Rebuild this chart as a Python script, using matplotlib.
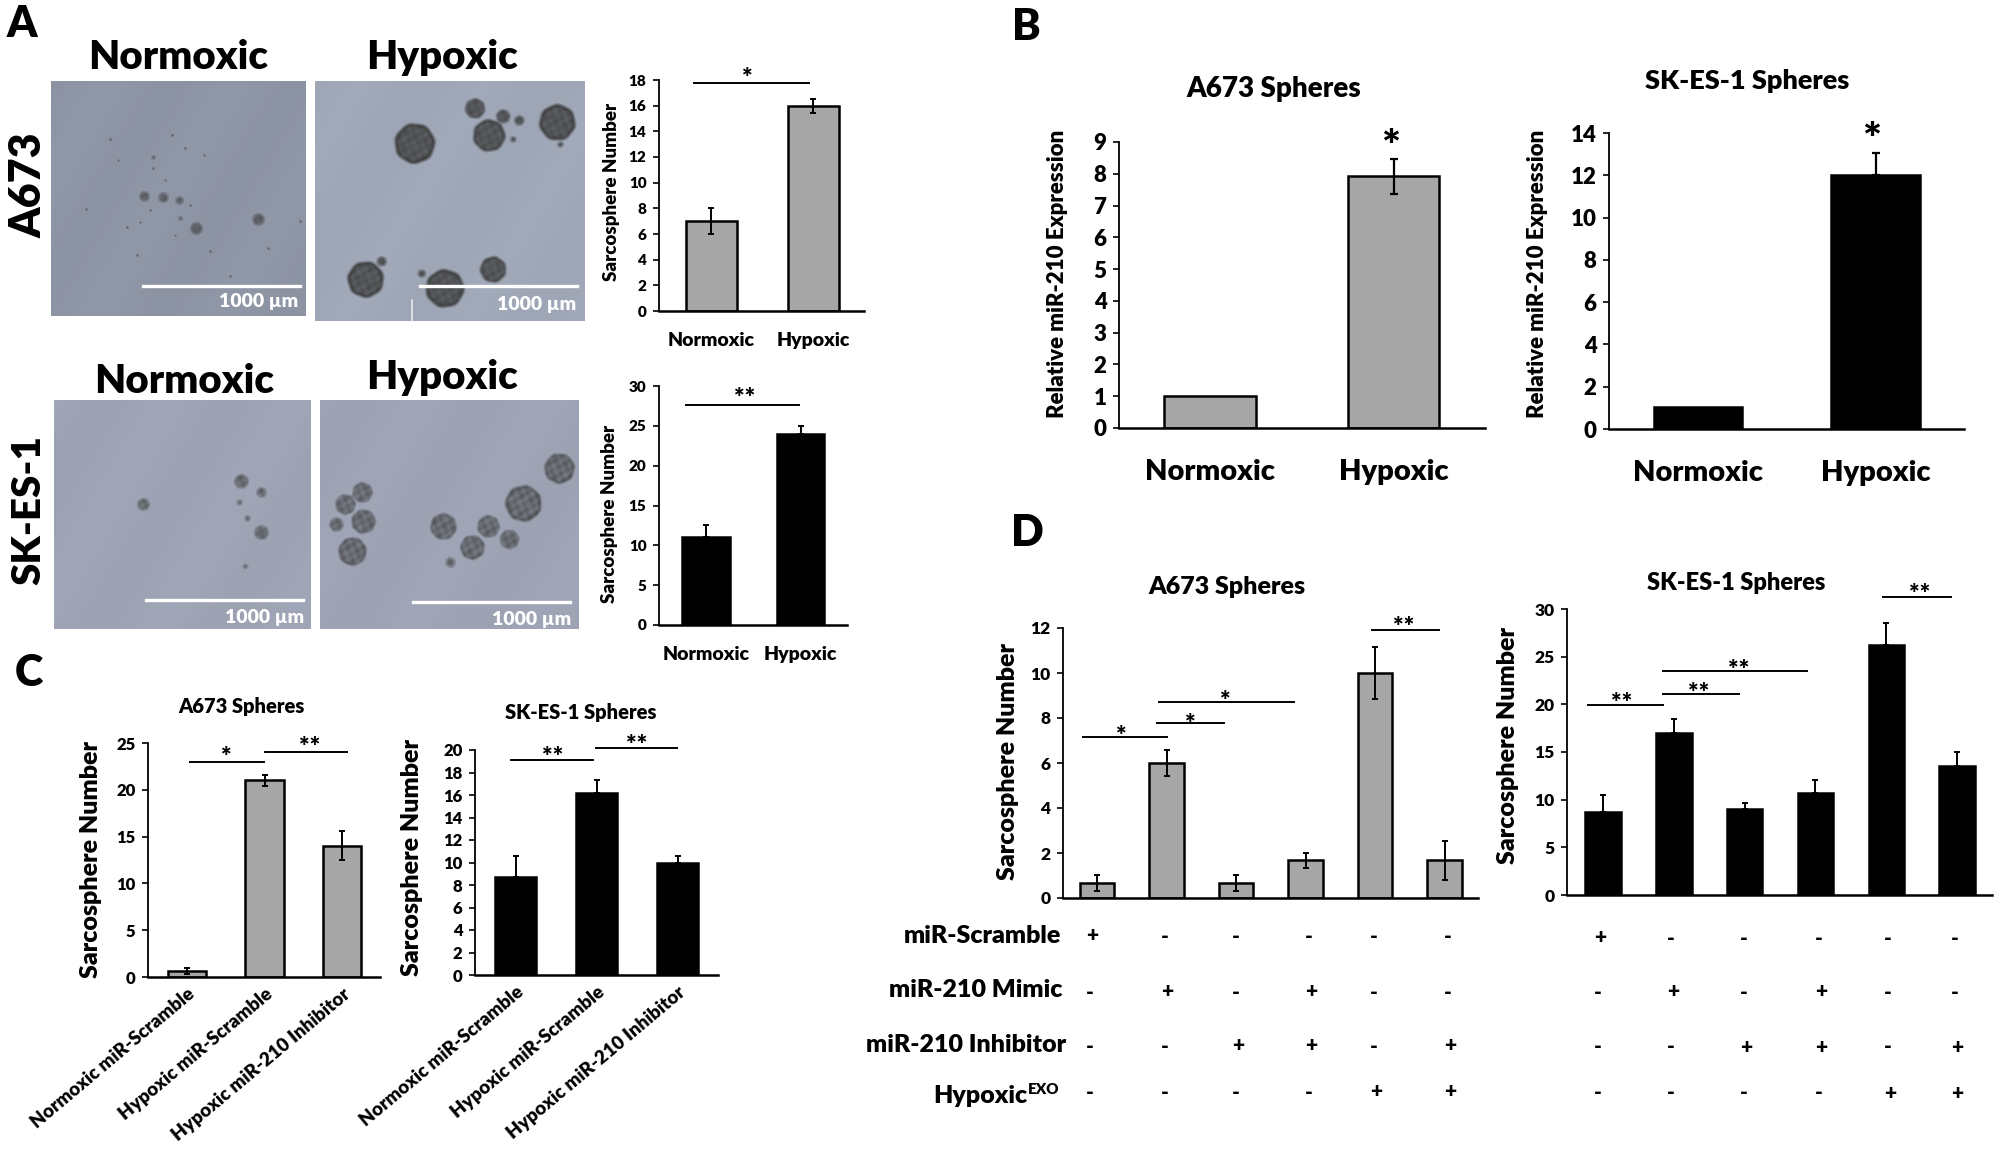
import numpy as np
import matplotlib
matplotlib.use("Agg")
import matplotlib.pyplot as plt
from matplotlib.lines import Line2D

W, H = 2000, 1149
GRAY = '#a6a6a6'
BLACK = '#000000'

plt.rcParams['font.family'] = ['Lato', 'DejaVu Sans']
plt.rcParams['font.weight'] = 800

# Panel A
a_labels = ['Normoxic', 'Hypoxic']
a_a673_vals = [7, 16]
a_a673_errs = [1.0, 0.55]
a_sk_vals = [11, 24]
a_sk_errs = [1.55, 1.0]

# Panel B
b_a673_vals = [1, 7.92]
b_a673_errs = [0, 0.56]
b_sk_vals = [1.05, 12]
b_sk_errs = [0, 1.05]

# Panel C
c_labels = ['Normoxic miR-Scramble', 'Hypoxic miR-Scramble', 'Hypoxic miR-210 Inhibitor']
c_a673_vals = [0.65, 21, 14]
c_a673_errs = [0.35, 0.6, 1.55]
c_sk_vals = [8.7, 16.2, 10]
c_sk_errs = [1.85, 1.15, 0.55]

# Panel D
d_a673_vals = [0.67, 6, 0.67, 1.67, 10, 1.67]
d_a673_errs = [0.35, 0.58, 0.35, 0.35, 1.17, 0.87]
d_sk_vals = [8.7, 17, 9, 10.7, 26.2, 13.5]
d_sk_errs = [1.8, 1.5, 0.6, 1.4, 2.3, 1.5]
d_rows = ['miR-Scramble', 'miR-210 Mimic', 'miR-210 Inhibitor']
d_signs = ['+-----', '-+-+--', '--++-+', '----++']

# micrograph spheres, (x, y, radius) in figure pixels
spheres_a_norm = [(163, 197, 6), (179, 200, 5), (144, 196, 6), (196, 228, 7), (258, 219, 7),
                  (153, 157, 3), (110, 139, 2), (185, 148, 2), (204, 155, 1.5), (180, 218, 3),
                  (86, 209, 2), (127, 227, 2), (268, 248, 2), (137, 255, 2), (230, 276, 2),
                  (300, 221, 2), (210, 251, 2), (153, 168, 2), (172, 135, 2), (118, 160, 1.5),
                  (165, 180, 1.5), (150, 210, 2), (140, 222, 1.5), (190, 205, 2), (175, 235, 1.5)]
spheres_a_hyp = [(414, 143, 21), (488, 135, 17), (474, 108, 11), (556, 122, 19), (502, 116, 8),
                 (518, 120, 6), (512, 139, 4), (559, 144, 4), (365, 279, 19), (381, 261, 6),
                 (444, 288, 20), (492, 269, 14), (421, 273, 5)]
spheres_sk_norm = [(143, 504, 7), (241, 481, 8), (261, 492, 6), (239, 502, 4), (247, 518, 4),
                   (261, 532, 8), (245, 566, 3.5)]
spheres_sk_hyp = [(362, 492, 11), (345, 504, 11), (363, 521, 13), (336, 524, 8), (352, 551, 15),
                  (443, 526, 14), (488, 526, 12), (472, 547, 13), (509, 539, 10.5), (523, 503, 19),
                  (559, 468, 16), (450, 562, 6)]

fig = plt.figure(figsize=(W / 100, H / 100), dpi=100, facecolor='white')


def ptxt(x, y, s, size, **kw):
    kw.setdefault('ha', 'center')
    kw.setdefault('va', 'center')
    kw.setdefault('color', 'black')
    return fig.text(x / W, 1 - y / H, s, fontsize=size, **kw)


def micrograph(x0, x1, y0, y1, bg, spheres, core=0.85, tone=0.08):
    ax = fig.add_axes([x0 / W, 1 - y1 / H, (x1 - x0) / W, (y1 - y0) / H])
    xx, yy = np.meshgrid(np.arange(x0, x1), np.arange(y0, y1))
    shade = 1 + 0.012 * np.sin(xx * 0.05 + yy * 0.03)
    img = np.ones(xx.shape + (3,)) * np.array(bg) / 255.0 * shade[..., None]
    # soft blotches inside the spheres
    mottle = (np.sin(xx * 0.61 + yy * 0.23) * np.sin(yy * 0.53 - xx * 0.17)
              + 0.5 * np.sin(xx * 0.29 + 1.1) * np.sin(yy * 0.37 + xx * 0.11))
    for cx, cy, r in spheres:
        d = np.hypot(xx - cx, yy - cy) / r
        rim = d + 0.02 * np.sin(np.arctan2(yy - cy, xx - cx) * 7 + cx)
        alpha = np.clip((1.03 - rim) * max(r * 0.3, 1), 0, 1)
        body = np.clip(core + tone * mottle + 0.2 * np.exp(-((rim - 0.9) / 0.12) ** 2), 0.2, 0.95)
        alpha = alpha * body
        img = img * (1 - alpha[..., None]) + 0.24 * alpha[..., None]
    ax.imshow(img, aspect='auto', interpolation='bilinear')
    ax.axis('off')
    return ax


def scale_bar(x0, x1, y, tx, ty):
    fig.add_artist(Line2D([x0 / W, x1 / W], [1 - y / H, 1 - y / H], color='white', lw=2.4))
    ptxt(tx, ty, '1000 µm', 14, color='white', ha='right')


def sig(x0, x1, y, label, sx, sy, size=18, lw=1.4):
    fig.add_artist(Line2D([x0 / W, x1 / W], [1 - y / H, 1 - y / H], color='black', lw=lw))
    ptxt(sx, sy, label, size)


def bars(x0, x1, y0, ytop, ymax, ystep, c0, step, vals, errs, color, ticksize,
         labels=None, labelsize=14, pad=14, rot=0, capsize=2.5, ebar=1.4):
    ax = fig.add_axes([x0 / W, 1 - y0 / H, (x1 - x0) / W, (y0 - ytop) / H])
    ax.patch.set_alpha(0)
    pos = np.arange(len(vals))
    vals = np.array(vals)
    errs = np.array(errs)
    ax.bar(pos, vals, width=0.5, color=color, edgecolor='black', linewidth=1.8, zorder=2)
    shown = errs > 0
    # black bars only show the upper half of the error bar
    lower = np.zeros(shown.sum()) if color == BLACK else errs[shown]
    ax.errorbar(pos[shown], vals[shown], yerr=[lower, errs[shown]], fmt='none', ecolor='black',
                elinewidth=ebar, capsize=capsize, capthick=ebar, zorder=3)
    ax.set_xlim((x0 - c0) / step, (x1 - c0) / step)
    ax.set_ylim(0, ymax)
    ax.set_yticks(np.arange(0, ymax + ystep / 2, ystep))
    ax.tick_params(axis='y', labelsize=ticksize, width=1.2, length=4, pad=5)
    for sp in ('top', 'right'):
        ax.spines[sp].set_visible(False)
    ax.spines['left'].set_linewidth(1.3)
    ax.spines['bottom'].set_linewidth(1.8)
    if labels is None:
        ax.set_xticks([])
    else:
        ax.set_xticks(pos)
        if rot:
            ax.set_xticklabels(labels, rotation=rot, ha='right', rotation_mode='anchor', fontsize=labelsize)
        else:
            ax.set_xticklabels(labels, fontsize=labelsize)
        ax.tick_params(axis='x', length=0, pad=pad)
    return ax


# panel letters
ptxt(22, 24, 'A', 31)
ptxt(1026, 27, 'B', 31)
ptxt(29, 673, 'C', 31)
ptxt(1027, 533, 'D', 31)

# A: micrographs
micrograph(51, 306, 81, 316, (142, 149, 165), spheres_a_norm, core=0.62, tone=0.06)
micrograph(315, 584, 81, 321, (160, 168, 184), spheres_a_hyp, core=0.78, tone=0.07)
micrograph(54, 311, 400, 629, (158, 164, 180), spheres_sk_norm, core=0.58, tone=0.1)
micrograph(320, 579, 400, 629, (158, 164, 180), spheres_sk_hyp, core=0.56, tone=0.12)
scale_bar(143, 300, 286, 298, 302)
scale_bar(420, 577, 286, 576, 304)
scale_bar(146, 303, 600, 304, 617)
scale_bar(413, 570, 602, 571, 619)
fig.add_artist(Line2D([412 / W, 412 / W], [1 - 300 / H, 1 - 321 / H], color='#e8ecf2', lw=1.2))

ptxt(178, 69, 'Normoxic', 29, va='baseline')
ptxt(442, 69, 'Hypoxic', 29, va='baseline')
ptxt(184, 393, 'Normoxic', 29, va='baseline')
ptxt(442, 389, 'Hypoxic', 29, va='baseline')
ptxt(29, 185, 'A673', 31, rotation=90)
ptxt(29, 510, 'SK-ES-1', 29, rotation=90)

# A: charts
bars(659, 864, 311, 80, 18, 2, 711, 102, a_a673_vals, a_a673_errs, GRAY, 11,
     labels=a_labels, labelsize=14, pad=15)
bars(659, 847, 625, 386, 30, 5, 706, 94.5, a_sk_vals, a_sk_errs, BLACK, 11,
     labels=a_labels, labelsize=14, pad=15)
ptxt(612, 192, 'Sarcosphere Number', 13.5, rotation=90)
ptxt(609, 514, 'Sarcosphere Number', 13.5, rotation=90)
sig(694, 809, 82.5, '*', 747, 78)
sig(686, 799, 405, '**', 745, 398)

# B
bars(1119, 1485, 428, 142, 9, 1, 1210, 183.5, b_a673_vals, b_a673_errs, GRAY, 16,
     labels=a_labels, labelsize=21, pad=22, capsize=3, ebar=1.6)
bars(1609, 1964, 429, 133, 14, 2, 1698, 177.5, b_sk_vals, b_sk_errs, BLACK, 16,
     labels=a_labels, labelsize=21, pad=22, capsize=3, ebar=1.6)
ptxt(1274, 89, 'A673 Spheres', 20)
ptxt(1747, 81, 'SK-ES-1 Spheres', 19.5)
ptxt(1057, 274, 'Relative miR-210 Expression', 16, rotation=90)
ptxt(1538, 274, 'Relative miR-210 Expression', 16, rotation=90)
ptxt(1391, 148, '*', 32)
ptxt(1872, 141, '*', 32)

# C
bars(148, 380, 977, 743, 25, 5, 187, 77.5, c_a673_vals, c_a673_errs, GRAY, 12,
     labels=c_labels, labelsize=13.5, pad=6, rot=40)
bars(475, 718, 975, 750, 20, 2, 515.5, 81, c_sk_vals, c_sk_errs, BLACK, 12,
     labels=c_labels, labelsize=13.5, pad=6, rot=40)
ptxt(91, 860, 'Sarcosphere Number', 18, rotation=90)
ptxt(412, 857, 'Sarcosphere Number', 18, rotation=90)
ptxt(241, 707, 'A673 Spheres', 14.5)
ptxt(581, 712, 'SK-ES-1 Spheres', 14.5)
sig(190, 264, 762, '*', 226, 757)
sig(265, 347, 752, '**', 310, 747)
sig(511, 593, 760, '**', 553, 757)
sig(596, 677, 748, '**', 637, 745)

# D
bars(1063, 1478, 898, 628, 12, 2, 1097, 69.5, d_a673_vals, d_a673_errs, GRAY, 12.5)
bars(1567, 1992, 895, 609, 30, 5, 1603, 70.8, d_sk_vals, d_sk_errs, BLACK, 12.5)
ptxt(1008, 762, 'Sarcosphere Number', 18, rotation=90)
ptxt(1508, 746, 'Sarcosphere Number', 18, rotation=90)
ptxt(1227, 587, 'A673 Spheres', 18)
ptxt(1736, 583, 'SK-ES-1 Spheres', 17)

sig(1083, 1167, 737, '*', 1121, 736)
sig(1157, 1224, 723, '*', 1190, 724)
sig(1159, 1294, 702, '*', 1225, 701)
sig(1372, 1439, 630, '**', 1404, 627)
sig(1588, 1663, 705, '**', 1622, 703)
sig(1663, 1739, 694, '**', 1699, 693)
sig(1663, 1807, 671, '**', 1739, 670)
sig(1883, 1951, 597, '**', 1920, 594)

ptxt(1061, 936, d_rows[0], 18, ha='right')
ptxt(1062, 990, d_rows[1], 18, ha='right')
ptxt(1066, 1045, d_rows[2], 18, ha='right')
ptxt(1027, 1096, 'Hypoxic', 18, ha='right')
ptxt(1028, 1090, 'EXO', 11, ha='left')

left_cols = [1090, 1165, 1236, 1309, 1374, 1448]
right_cols = [1598, 1671, 1744, 1819, 1888, 1955]
left_rows = [936, 992, 1046, 1092]
right_rows = [938, 992, 1047, 1093]
for cols, rows in ((left_cols, left_rows), (right_cols, right_rows)):
    for signs, y in zip(d_signs, rows):
        for x, s in zip(cols, signs):
            ptxt(x + (2 if s == '+' else 0), y, s, 15)

plt.savefig('out.png', dpi=100, facecolor='white')
